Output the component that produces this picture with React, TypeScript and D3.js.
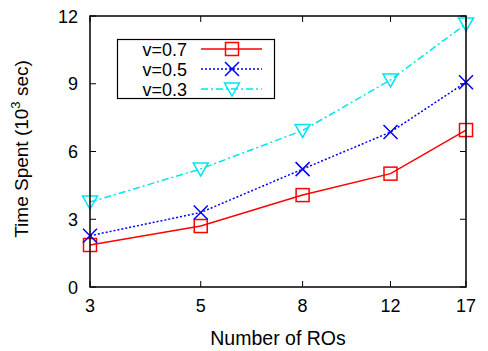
import React from "react";
import * as d3 from "d3";

const ros = [3, 5, 8, 12, 17];
const yTicks = [0, 3, 6, 9, 12];
const v07 = [1.86, 2.7, 4.07, 5.02, 6.95];
const v05 = [2.27, 3.3, 5.22, 6.86, 9.07];
const v03 = [3.76, 5.23, 6.93, 9.17, 11.65];
const seriesNames = ["v=0.7", "v=0.5", "v=0.3"];

const W = 488, H = 351;
const L = 90, R = 466, T = 16, B = 287;

export default function App() {
  const x = d3.scaleLog().domain([3, 17]).range([L, R]);
  const y = d3.scaleLinear().domain([0, 12]).range([B, T]);
  const line = d3.line<number>().x((_, i) => x(ros[i])).y((d) => y(d));
  const series = [
    { name: seriesNames[0], data: v07, color: "#ff0000", dash: "none", marker: "square" },
    { name: seriesNames[1], data: v05, color: "#0000ff", dash: "2,2", marker: "x" },
    { name: seriesNames[2], data: v03, color: "#00e5ee", dash: "7,3,2,3", marker: "tri" },
  ];
  const marker = (m: string, cx: number, cy: number, c: string, k: string) => {
    if (m === "square") return <rect key={k} x={cx - 6.5} y={cy - 6.5} width={13} height={13} fill="none" stroke={c} strokeWidth={1.5} />;
    if (m === "x") return <path key={k} d={`M${cx - 7},${cy - 7}L${cx + 7},${cy + 7}M${cx - 7},${cy + 7}L${cx + 7},${cy - 7}`} stroke={c} strokeWidth={1.5} />;
    return <path key={k} d={`M${cx - 7.5},${cy - 6}L${cx + 7.5},${cy - 6}L${cx},${cy + 7}Z`} fill="none" stroke={c} strokeWidth={1.5} />;
  };
  const font = "'Liberation Sans', Arial, sans-serif";
  return (
    <svg width={W} height={H} style={{ display: "block", position: "absolute", left: 0, top: 0 }} fontFamily={font}>
      <rect x={0} y={0} width={W} height={H} fill="#fff" />
      {ros.map((r) => (
        <g key={"xt" + r}>
          <line x1={x(r)} x2={x(r)} y1={B} y2={B - 6} stroke="#000" />
          <line x1={x(r)} x2={x(r)} y1={T} y2={T + 6} stroke="#000" />
          <text x={x(r)} y={312} textAnchor="middle" fontSize={18}>{r}</text>
        </g>
      ))}
      {yTicks.map((t) => (
        <g key={"yt" + t}>
          <line x1={L} x2={L + 6} y1={y(t)} y2={y(t)} stroke="#000" />
          <line x1={R} x2={R - 6} y1={y(t)} y2={y(t)} stroke="#000" />
          <text x={L - 12} y={y(t) + 6.5} textAnchor="end" fontSize={18}>{t}</text>
        </g>
      ))}
      {series.map((s) => (
        <g key={s.name}>
          <path d={line(s.data) || ""} fill="none" stroke={s.color} strokeWidth={1.5} strokeDasharray={s.dash} />
          {s.data.map((d, i) => marker(s.marker, x(ros[i]), y(d), s.color, s.name + i))}
        </g>
      ))}
      <rect x={L} y={T} width={R - L} height={B - T} fill="none" stroke="#000" strokeWidth={1.5} />
      <rect x={117.5} y={39.5} width={157} height={59} fill="#fff" stroke="#000" strokeWidth={1.2} />
      {series.map((s, i) => {
        const ly = 49 + i * 20;
        return (
          <g key={"lg" + s.name}>
            <text x={187} y={ly + 6.5} textAnchor="end" fontSize={18}>{s.name}</text>
            <line x1={201} x2={262} y1={ly} y2={ly} stroke={s.color} strokeWidth={1.5} strokeDasharray={s.dash} />
            {marker(s.marker, 232, ly, s.color, "lm" + i)}
          </g>
        );
      })}
      <text x={278} y={345} textAnchor="middle" fontSize={19.5}>Number of ROs</text>
      <text transform={`translate(28,149) rotate(-90)`} textAnchor="middle" fontSize={19}>
        Time Spent (10<tspan dy={-8} fontSize={13}>3</tspan><tspan dy={8}> sec)</tspan>
      </text>
    </svg>
  );
}
